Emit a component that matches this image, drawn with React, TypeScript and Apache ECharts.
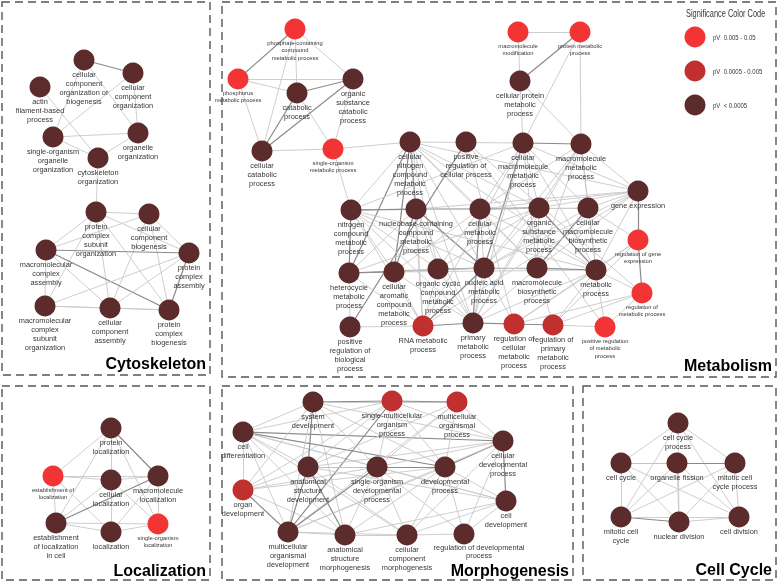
import React, { useEffect, useRef } from "react";
import * as echarts from "echarts";

// significance level: 0 = pV < 0.0005, 1 = 0.0005 - 0.005, 2 = 0.005 - 0.05
const sigColors = ["#5c2b2c", "#c0302f", "#f23434"];
const legendLabels = ["pV  0.005 - 0.05", "pV  0.0005 - 0.005", "pV  < 0.0005"];
const legendLevels = [2, 1, 0];

// [id, label, x, y, significance, smallLabel]
type N = [string, string, number, number, number, number];

const cytoskeletonNodes: N[] = [
  ["ccob", "cellular\ncomponent\norganization or\nbiogenesis", 84, 60, 0, 0],
  ["cco", "cellular\ncomponent\norganization", 133, 73, 0, 0],
  ["afbp", "actin\nfilament-based\nprocess", 40, 87, 0, 0],
  ["sooo", "single-organism\norganelle\norganization", 53, 137, 0, 0],
  ["oo", "organelle\norganization", 138, 133, 0, 0],
  ["cso", "cytoskeleton\norganization", 98, 158, 0, 0],
  ["pcso", "protein\ncomplex\nsubunit\norganization", 96, 212, 0, 0],
  ["ccb", "cellular\ncomponent\nbiogenesis", 149, 214, 0, 0],
  ["mca", "macromolecular\ncomplex\nassembly", 46, 250, 0, 0],
  ["pca", "protein\ncomplex\nassembly", 189, 253, 0, 0],
  ["mcso", "macromolecular\ncomplex\nsubunit\norganization", 45, 306, 0, 0],
  ["cca", "cellular\ncomponent\nassembly", 110, 308, 0, 0],
  ["pcb", "protein\ncomplex\nbiogenesis", 169, 310, 0, 0],
];

const metabolismNodes: N[] = [
  ["pccm", "phosphate-containing\ncompound\nmetabolic process", 295, 29, 2, 1],
  ["phmp", "phosphorus\nmetabolic process", 238, 79, 2, 1],
  ["catp", "catabolic\nprocess", 297, 93, 0, 0],
  ["oscp", "organic\nsubstance\ncatabolic\nprocess", 353, 79, 0, 0],
  ["ccp", "cellular\ncatabolic\nprocess", 262, 151, 0, 0],
  ["somp", "single-organism\nmetabolic process", 333, 149, 2, 1],
  ["mmod", "macromolecule\nmodification", 518, 32, 2, 1],
  ["pmp", "protein metabolic\nprocess", 580, 32, 2, 1],
  ["cpmp", "cellular protein\nmetabolic\nprocess", 520, 81, 0, 0],
  ["cncm", "cellular\nnitrogen\ncompound\nmetabolic\nprocess", 410, 142, 0, 0],
  ["prcp", "positive\nregulation of\ncellular process", 466, 142, 0, 0],
  ["cmmp", "cellular\nmacromolecule\nmetabolic\nprocess", 523, 143, 0, 0],
  ["mmp", "macromolecule\nmetabolic\nprocess", 581, 144, 0, 0],
  ["ncmp", "nitrogen\ncompound\nmetabolic\nprocess", 351, 210, 0, 0],
  ["nbcc", "nucleobase-containing\ncompound\nmetabolic\nprocess", 416, 209, 0, 0],
  ["cmp", "cellular\nmetabolic\nprocess", 480, 209, 0, 0],
  ["osmp", "organic\nsubstance\nmetabolic\nprocess", 539, 208, 0, 0],
  ["cmbp", "cellular\nmacromolecule\nbiosynthetic\nprocess", 588, 208, 0, 0],
  ["gex", "gene expression", 638, 191, 0, 0],
  ["rge", "regulation of gene\nexpression", 638, 240, 2, 1],
  ["hmp", "heterocycle\nmetabolic\nprocess", 349, 273, 0, 0],
  ["cacm", "cellular\naromatic\ncompound\nmetabolic\nprocess", 394, 272, 0, 0],
  ["occm", "organic cyclic\ncompound\nmetabolic\nprocess", 438, 269, 0, 0],
  ["namp", "nucleic acid\nmetabolic\nprocess", 484, 268, 0, 0],
  ["mbp", "macromolecule\nbiosynthetic\nprocess", 537, 268, 0, 0],
  ["metp", "metabolic\nprocess", 596, 270, 0, 0],
  ["rmp", "regulation of\nmetabolic process", 642, 293, 2, 1],
  ["prbp", "positive\nregulation of\nbiological\nprocess", 350, 327, 0, 0],
  ["rnap", "RNA metabolic\nprocess", 423, 326, 1, 0],
  ["pmtp", "primary\nmetabolic\nprocess", 473, 323, 0, 0],
  ["rcmp", "regulation of\ncellular\nmetabolic\nprocess", 514, 324, 1, 0],
  ["rpmp", "regulation of\nprimary\nmetabolic\nprocess", 553, 325, 1, 0],
  ["prmp", "positive regulation\nof metabolic\nprocess", 605, 327, 2, 1],
];

const localizationNodes: N[] = [
  ["pl", "protein\nlocalization", 111, 428, 0, 0],
  ["el", "establishment of\nlocalization", 53, 476, 2, 1],
  ["cl", "cellular\nlocalization", 111, 480, 0, 0],
  ["ml", "macromolecule\nlocalization", 158, 476, 0, 0],
  ["elc", "establishment\nof localization\nin cell", 56, 523, 0, 0],
  ["loc", "localization", 111, 532, 0, 0],
  ["sol", "single-organism\nlocalization", 158, 524, 2, 1],
];

const morphogenesisNodes: N[] = [
  ["cdif", "cell\ndifferentiation", 243, 432, 0, 0],
  ["orgd", "organ\ndevelopment", 243, 490, 1, 0],
  ["sysd", "system\ndevelopment", 313, 402, 0, 0],
  ["smop", "single-multicellular\norganism\nprocess", 392, 401, 1, 0],
  ["mcop", "multicellular\norganismal\nprocess", 457, 402, 1, 0],
  ["cdp", "cellular\ndevelopmental\nprocess", 503, 441, 0, 0],
  ["asd", "anatomical\nstructure\ndevelopment", 308, 467, 0, 0],
  ["sodp", "single-organism\ndevelopmental\nprocess", 377, 467, 0, 0],
  ["devp", "developmental\nprocess", 445, 467, 0, 0],
  ["celd", "cell\ndevelopment", 506, 501, 0, 0],
  ["mcod", "multicellular\norganismal\ndevelopment", 288, 532, 0, 0],
  ["asm", "anatomical\nstructure\nmorphogenesis", 345, 535, 0, 0],
  ["ccm", "cellular\ncomponent\nmorphogenesis", 407, 535, 0, 0],
  ["rdp", "regulation of developmental\nprocess", 464, 534, 0, 0],
];

const cellCycleNodes: N[] = [
  ["cycp", "cell cycle\nprocess", 678, 423, 0, 0],
  ["cc", "cell cycle", 621, 463, 0, 0],
  ["of", "organelle fission", 677, 463, 0, 0],
  ["mccp", "mitotic cell\ncycle process", 735, 463, 0, 0],
  ["mcc", "mitotic cell\ncycle", 621, 517, 0, 0],
  ["nd", "nuclear division", 679, 522, 0, 0],
  ["cd", "cell division", 739, 517, 0, 0],
];

// [source, target, strength] 1 = weak, 2 = strong
type E = [string, string, number];

const cytoskeletonEdges: E[] = [
  ["ccob", "cco", 2], ["ccob", "sooo", 1], ["ccob", "oo", 1], ["cco", "sooo", 1], ["cco", "oo", 1],
  ["afbp", "cso", 1], ["sooo", "oo", 1], ["sooo", "cso", 1], ["oo", "cso", 1], ["cso", "pcso", 1],
  ["pcso", "ccb", 1], ["pcso", "mca", 1], ["pcso", "pca", 1], ["pcso", "mcso", 1], ["pcso", "cca", 1],
  ["pcso", "pcb", 1], ["ccb", "mca", 1], ["ccb", "pca", 1], ["ccb", "cca", 1], ["ccb", "pcb", 1],
  ["mca", "pca", 2], ["mca", "pcb", 2], ["mca", "mcso", 1], ["mca", "cca", 1], ["pca", "mcso", 1],
  ["pca", "cca", 1], ["pca", "pcb", 2], ["mcso", "cca", 1], ["cca", "pcb", 1], ["mcso", "pcb", 1],
];

const metabolismEdges: E[] = [
  ["pccm", "phmp", 2], ["pccm", "catp", 1], ["pccm", "oscp", 1], ["pccm", "ccp", 1],
  ["phmp", "catp", 1], ["phmp", "oscp", 1], ["phmp", "ccp", 1], ["catp", "oscp", 2],
  ["catp", "ccp", 2], ["catp", "somp", 1], ["oscp", "ccp", 2], ["oscp", "somp", 1],
  ["ccp", "somp", 1], ["somp", "cncm", 1], ["somp", "ncmp", 1],
  ["mmod", "pmp", 1], ["mmod", "cpmp", 1], ["pmp", "cpmp", 2], ["pmp", "mmp", 1],
  ["pmp", "cmmp", 1], ["cpmp", "cmmp", 1], ["cpmp", "mmp", 1],
  ["cncm", "ncmp", 1], ["cncm", "nbcc", 2], ["cncm", "cmp", 1], ["cncm", "osmp", 1], ["cncm", "hmp", 2],
  ["cncm", "cacm", 2], ["cncm", "occm", 1], ["cncm", "namp", 1], ["cncm", "mbp", 1], ["cncm", "metp", 1],
  ["cncm", "rnap", 1], ["cncm", "pmtp", 1], ["cncm", "gex", 1], ["cncm", "cmmp", 1],
  ["prcp", "prbp", 2], ["prcp", "prmp", 1], ["prcp", "rcmp", 1], ["prcp", "rmp", 1],
  ["cmmp", "mmp", 2], ["cmmp", "cmp", 1], ["cmmp", "osmp", 1], ["cmmp", "namp", 2], ["cmmp", "cmbp", 1],
  ["cmmp", "mbp", 1], ["cmmp", "gex", 1], ["cmmp", "rnap", 1], ["cmmp", "pmtp", 1], ["cmmp", "metp", 1],
  ["cmmp", "ncmp", 1],
  ["mmp", "gex", 1], ["mmp", "osmp", 1], ["mmp", "cmbp", 1], ["mmp", "mbp", 1], ["mmp", "metp", 1],
  ["mmp", "pmtp", 1], ["mmp", "cmp", 1], ["mmp", "namp", 1],
  ["ncmp", "nbcc", 2], ["ncmp", "cmp", 1], ["ncmp", "osmp", 2], ["ncmp", "hmp", 2], ["ncmp", "cacm", 1],
  ["ncmp", "occm", 1], ["ncmp", "namp", 1], ["ncmp", "rnap", 1], ["ncmp", "pmtp", 1], ["ncmp", "metp", 1],
  ["nbcc", "cmp", 1], ["nbcc", "hmp", 1], ["nbcc", "cacm", 2], ["nbcc", "occm", 1], ["nbcc", "namp", 2],
  ["nbcc", "rnap", 1], ["nbcc", "pmtp", 1], ["nbcc", "osmp", 1], ["nbcc", "gex", 1],
  ["cmp", "osmp", 2], ["cmp", "namp", 1], ["cmp", "mbp", 1], ["cmp", "metp", 1], ["cmp", "pmtp", 2],
  ["cmp", "cmbp", 1], ["cmp", "occm", 1], ["cmp", "cacm", 1], ["cmp", "gex", 1],
  ["osmp", "cmbp", 1], ["osmp", "mbp", 1], ["osmp", "metp", 2], ["osmp", "pmtp", 1], ["osmp", "gex", 1],
  ["osmp", "occm", 1], ["osmp", "namp", 1], ["osmp", "hmp", 1],
  ["cmbp", "gex", 1], ["cmbp", "mbp", 2], ["cmbp", "metp", 1], ["cmbp", "rge", 1], ["cmbp", "namp", 1],
  ["gex", "rge", 2], ["gex", "metp", 1], ["gex", "mbp", 1], ["gex", "namp", 1], ["gex", "rnap", 1],
  ["rge", "rmp", 2], ["rge", "rpmp", 1], ["rge", "rcmp", 1], ["rge", "metp", 1],
  ["hmp", "cacm", 2], ["hmp", "occm", 1], ["hmp", "namp", 2], ["hmp", "rnap", 1], ["hmp", "prbp", 1],
  ["cacm", "occm", 1], ["cacm", "namp", 1], ["cacm", "rnap", 1], ["cacm", "pmtp", 1], ["cacm", "metp", 1],
  ["occm", "namp", 2], ["occm", "rnap", 1], ["occm", "pmtp", 1], ["occm", "mbp", 1],
  ["namp", "mbp", 2], ["namp", "metp", 1], ["namp", "rnap", 2], ["namp", "pmtp", 1], ["namp", "rcmp", 1],
  ["mbp", "metp", 2], ["mbp", "pmtp", 1], ["mbp", "rpmp", 1],
  ["metp", "pmtp", 1], ["metp", "rmp", 1], ["metp", "rcmp", 1], ["metp", "rpmp", 1], ["metp", "prmp", 1],
  ["rmp", "rpmp", 1], ["rmp", "rcmp", 1], ["rmp", "prmp", 1],
  ["prbp", "rnap", 1], ["rnap", "pmtp", 2], ["pmtp", "rcmp", 2], ["rcmp", "rpmp", 2], ["rpmp", "prmp", 1],
];

const localizationEdges: E[] = [
  ["pl", "el", 1], ["pl", "cl", 1], ["pl", "ml", 2], ["pl", "elc", 1], ["pl", "sol", 1],
  ["el", "cl", 1], ["el", "ml", 1], ["el", "elc", 1], ["el", "loc", 1], ["cl", "ml", 1],
  ["cl", "elc", 1], ["cl", "loc", 1], ["cl", "sol", 1], ["ml", "elc", 2], ["ml", "loc", 1],
  ["ml", "sol", 1], ["elc", "loc", 1], ["elc", "sol", 1], ["loc", "sol", 1],
];

const morphogenesisEdges: E[] = [
  ["cdif", "orgd", 1], ["cdif", "sysd", 1], ["cdif", "smop", 1], ["cdif", "cdp", 2], ["cdif", "asd", 1],
  ["cdif", "sodp", 1], ["cdif", "devp", 2], ["cdif", "celd", 1], ["cdif", "mcod", 1], ["cdif", "asm", 1],
  ["cdif", "ccm", 1],
  ["orgd", "sysd", 1], ["orgd", "asd", 1], ["orgd", "sodp", 1], ["orgd", "devp", 1], ["orgd", "mcod", 2],
  ["orgd", "asm", 1], ["orgd", "smop", 1],
  ["sysd", "smop", 2], ["sysd", "mcop", 1], ["sysd", "asd", 2], ["sysd", "sodp", 1], ["sysd", "devp", 1],
  ["sysd", "mcod", 1], ["sysd", "cdp", 1], ["sysd", "asm", 1],
  ["smop", "mcop", 2], ["smop", "asd", 1], ["smop", "sodp", 1], ["smop", "devp", 1], ["smop", "mcod", 2],
  ["smop", "cdp", 1],
  ["mcop", "sodp", 1], ["mcop", "devp", 1], ["mcop", "mcod", 1], ["mcop", "cdp", 1], ["mcop", "asd", 1],
  ["cdp", "asd", 1], ["cdp", "sodp", 1], ["cdp", "devp", 2], ["cdp", "celd", 2], ["cdp", "mcod", 1],
  ["cdp", "ccm", 1], ["cdp", "rdp", 1],
  ["asd", "sodp", 2], ["asd", "devp", 1], ["asd", "mcod", 2], ["asd", "asm", 2], ["asd", "ccm", 1],
  ["asd", "celd", 1],
  ["sodp", "devp", 2], ["sodp", "mcod", 2], ["sodp", "asm", 1], ["sodp", "ccm", 1], ["sodp", "celd", 1],
  ["sodp", "rdp", 1],
  ["devp", "mcod", 1], ["devp", "asm", 1], ["devp", "celd", 1], ["devp", "rdp", 1], ["devp", "ccm", 1],
  ["celd", "ccm", 1], ["celd", "asm", 1], ["celd", "rdp", 1],
  ["mcod", "asm", 1], ["mcod", "ccm", 1], ["asm", "ccm", 1], ["ccm", "rdp", 1],
];

const cellCycleEdges: E[] = [
  ["cycp", "cc", 1], ["cycp", "mccp", 1], ["cycp", "mcc", 1], ["cycp", "cd", 1], ["cycp", "nd", 1],
  ["cc", "of", 2], ["cc", "mccp", 1], ["cc", "mcc", 1], ["cc", "nd", 1], ["cc", "cd", 1],
  ["of", "mccp", 2], ["of", "mcc", 1], ["of", "nd", 1], ["of", "cd", 1],
  ["mccp", "mcc", 1], ["mccp", "nd", 1], ["mccp", "cd", 1],
  ["mcc", "nd", 2], ["mcc", "cd", 1], ["nd", "cd", 1],
];

// cluster panels: [title, left, top, right, bottom, title baseline gap]
type P = [string, number, number, number, number, number];
const panels: P[] = [
  ["Cytoskeleton", 2, 2, 210, 375, 4],
  ["Metabolism", 222, 2, 776, 377, 4],
  ["Localization", 2, 386, 210, 580, 2],
  ["Morphogenesis", 222, 386, 573, 580, 2],
  ["Cell Cycle", 583, 386, 776, 580, 2.5],
];

// labels nudged sideways to avoid a neighbour
const labelShift: Record<string, number> = { rdp: 15 };

const FONT = "'Liberation Sans', Arial, sans-serif";
const TEXT = "#363636";

export default function App() {
  const ref = useRef<HTMLDivElement>(null);
  useEffect(() => {
    document.body.style.margin = "0";
    if (!ref.current) return;
    const chart = echarts.init(ref.current, undefined, { renderer: "svg" });

    const allNodes = [
      ...cytoskeletonNodes,
      ...metabolismNodes,
      ...localizationNodes,
      ...morphogenesisNodes,
      ...cellCycleNodes,
    ];
    const allEdges = [
      ...cytoskeletonEdges,
      ...metabolismEdges,
      ...localizationEdges,
      ...morphogenesisEdges,
      ...cellCycleEdges,
    ];

    const data = allNodes.map(([id, label, x, y, sig, small]) => ({
      name: id,
      value: [x, y],
      itemStyle: { color: sigColors[sig] },
      label: {
        show: true,
        position: "bottom",
        distance: id === "rdp" ? -1.5 : 0,
        offset: [labelShift[id] || 0, 0],
        formatter: label,
        color: TEXT,
        fontFamily: FONT,
        fontSize: small ? 5.8 : 7.4,
        lineHeight: small ? 7.2 : id === "rdp" ? 8 : 8.8,
        align: "center",
      },
    }));

    const links = allEdges.map(([s, t, w]) => ({
      source: s,
      target: t,
      lineStyle: {
        color: w === 2 ? "#8a8a8a" : "#c8c8c8",
        width: w === 2 ? 1.2 : 0.9,
        opacity: 1,
      },
    }));

    const graphic: any[] = [];
    panels.forEach(([title, l, t, r, b, gap]) => {
      graphic.push({
        type: "rect",
        shape: { x: l, y: t, width: r - l, height: b - t },
        style: { fill: "none", stroke: "#555", lineWidth: 1.4, lineDash: [8, 5] },
        silent: true,
      });
      graphic.push({
        type: "text",
        x: r - 4,
        y: b - gap,
        style: {
          text: title,
          font: `bold 16px ${FONT}`,
          fill: "#000",
          textAlign: "right",
          textVerticalAlign: "bottom",
        },
        silent: true,
      });
    });

    graphic.push({
      type: "text",
      x: 686,
      y: 14,
      scaleX: 0.74,
      style: {
        text: "Significance Color Code",
        font: `10px ${FONT}`,
        fill: TEXT,
        textAlign: "left",
        textVerticalAlign: "middle",
      },
      silent: true,
    });
    legendLevels.forEach((lvl, i) => {
      const cy = 37 + i * 34;
      graphic.push({
        type: "circle",
        shape: { cx: 695, cy, r: 10.5 },
        style: { fill: sigColors[lvl] },
        silent: true,
      });
      graphic.push({
        type: "text",
        x: 713,
        y: cy,
        scaleX: 0.75,
        style: {
          text: legendLabels[i],
          font: `8px ${FONT}`,
          fill: TEXT,
          textAlign: "left",
          textVerticalAlign: "middle",
        },
        silent: true,
      });
    });

    chart.setOption({
      animation: false,
      grid: { left: 0, top: 0, right: 0, bottom: 0 },
      xAxis: { type: "value", min: 0, max: 778, show: false },
      yAxis: { type: "value", min: 0, max: 583, inverse: true, show: false },
      graphic,
      series: [
        {
          type: "graph",
          coordinateSystem: "cartesian2d",
          symbol: "circle",
          symbolSize: 21,
          silent: true,
          data,
          links,
          edgeSymbol: ["none", "none"],
          label: {
            show: true,
            position: "bottom",
            distance: 0,
            color: TEXT,
            fontFamily: FONT,
          },
          lineStyle: { curveness: 0 },
          emphasis: { disabled: true },
          z: 3,
        },
      ],
    });
    return () => chart.dispose();
  }, []);
  return (
    <div
      ref={ref}
      style={{ width: 778, height: 583, willChange: "transform" }}
    />
  );
}
